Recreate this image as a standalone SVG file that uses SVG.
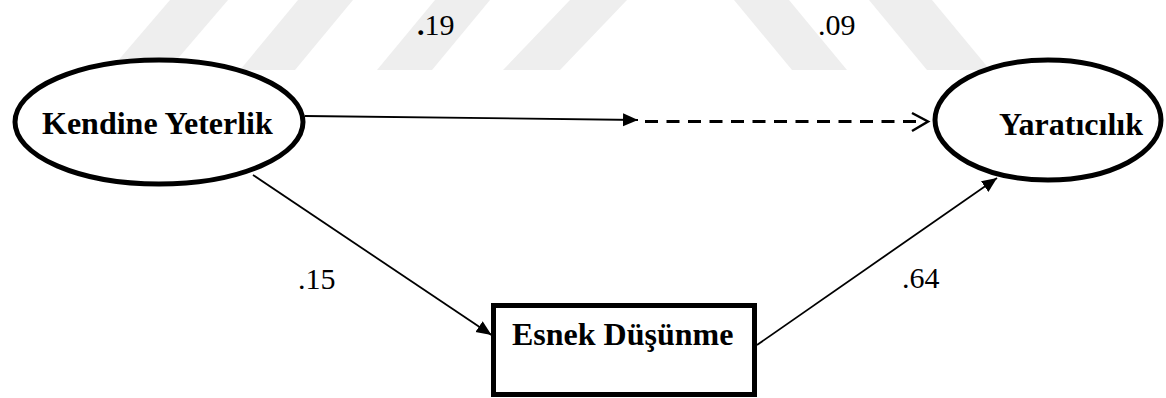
<svg xmlns="http://www.w3.org/2000/svg" width="1166" height="398" viewBox="0 0 1166 398">
<style>
.wm{fill:#eeeeee;stroke:none}
.node{fill:#fff;stroke:#000;stroke-width:5}
.lbl{font-family:"Liberation Serif","Times New Roman",serif;font-weight:bold;font-size:32px;fill:#000}
.num{font-family:"Liberation Serif","Times New Roman",serif;font-size:30px;fill:#000}
.edge{fill:none;stroke:#000;stroke-width:1.8}
.dash{fill:none;stroke:#000;stroke-width:3;stroke-dasharray:13 8.5}
</style>
<defs>
<marker id="ah" markerUnits="userSpaceOnUse" markerWidth="16" markerHeight="14" refX="15" refY="6.5" orient="auto">
<path d="M0,0 L15,6.5 L0,13 z" fill="#000"/>
</marker>
</defs>
<rect width="1166" height="398" fill="#fff"/>
<g id="watermark">
<polygon class="wm" points="110,70 168,70 228,0 170,0"/>
<polygon class="wm" points="240,70 295,70 353,0 298,0"/>
<polygon class="wm" points="377,70 432,70 490,0 435,0"/>
<polygon class="wm" points="503,70 560,70 627,0 570,0"/>
<polygon class="wm" points="792,70 847,70 789,0 734,0"/>
<polygon class="wm" points="927,70 990,70 932,0 869,0"/>
</g>
<g id="connectors">
<line class="edge" x1="305" y1="116" x2="638" y2="120" marker-end="url(#ah)"/>
<line class="dash" x1="645" y1="121.5" x2="924" y2="121.5"/>
<polyline points="912,113 928,121.5 912,131" fill="none" stroke="#000" stroke-width="2.5"/>
<line class="edge" x1="253" y1="175" x2="491.5" y2="335" marker-end="url(#ah)"/>
<line class="edge" x1="757" y1="345" x2="997" y2="178" marker-end="url(#ah)"/>
</g>
<g id="labels">
<text class="num" x="417" y="35"><tspan font-weight="bold">.</tspan>19</text>
<text class="num" x="818" y="35">.09</text>
<text class="num" x="298" y="289">.15</text>
<text class="num" x="902" y="288">.64</text>
</g>
<g id="node-kendine">
<ellipse class="node" cx="159" cy="122" rx="144" ry="62"/>
<text class="lbl" x="42" y="134">Kendine Yeterlik</text>
</g>
<g id="node-yaraticilik">
<ellipse class="node" cx="1048" cy="120" rx="113" ry="60"/>
<text class="lbl" x="999" y="135">Yaratıcılık</text>
</g>
<g id="node-esnek">
<rect class="node" x="493.5" y="305.5" width="261" height="89"/>
<text class="lbl" x="512" y="345">Esnek Düşünme</text>
</g>
</svg>
